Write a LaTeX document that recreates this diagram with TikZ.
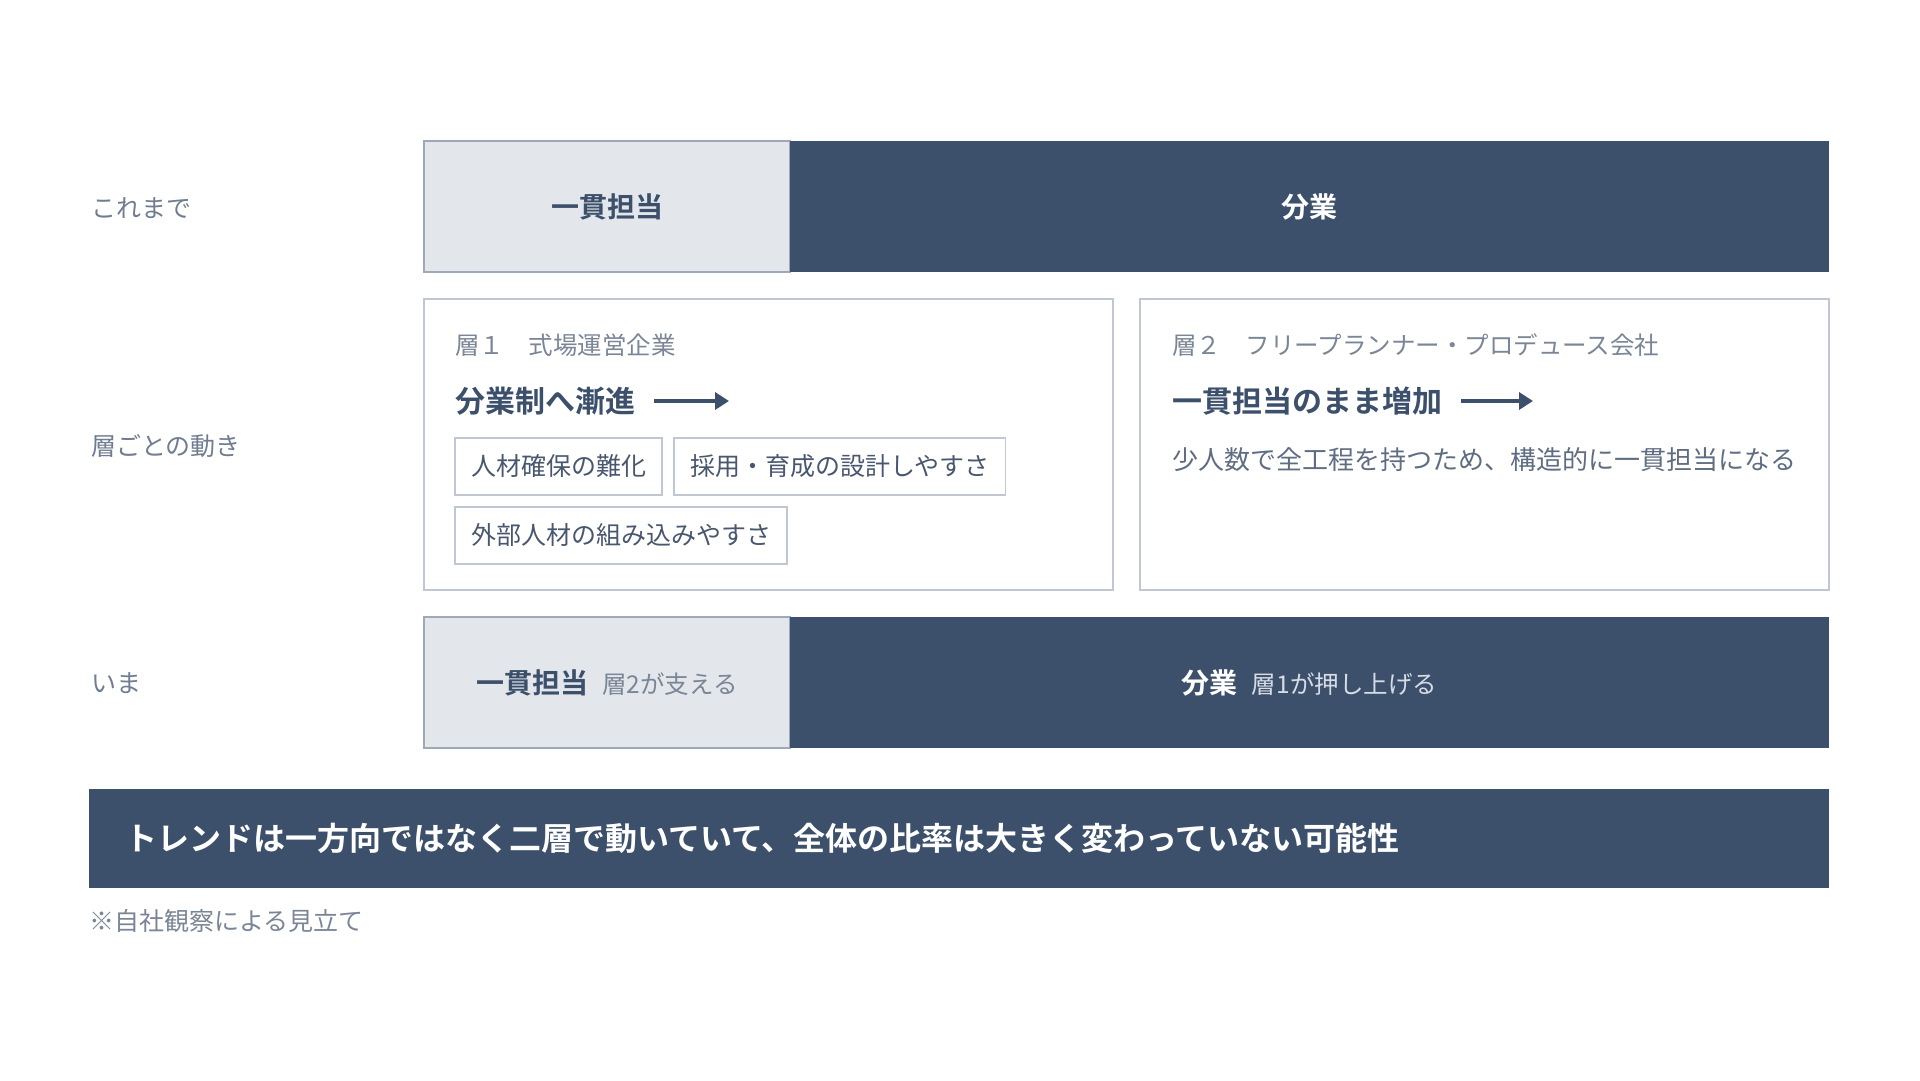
\documentclass[tikz,border=0pt]{standalone}
\usepackage{fontspec}
\setmainfont{Noto Sans CJK JP}[BoldFont={* Bold}]
\usepackage{xcolor}
\usetikzlibrary{arrows.meta,positioning}
\definecolor{navy}{RGB}{60,80,107}
\definecolor{lightfill}{RGB}{227,231,236}
\definecolor{lightedge}{RGB}{158,168,184}
\definecolor{cardedge}{RGB}{192,199,210}
\definecolor{labelgrey}{RGB}{112,124,143}
\definecolor{headgrey}{RGB}{122,133,150}
\definecolor{tagtext}{RGB}{72,87,110}
\definecolor{bodygrey}{RGB}{95,109,130}
\definecolor{palegrey}{RGB}{214,220,229}
\newcommand{\pxfont}[1]{\fontsize{#1}{#1}\selectfont}

\begin{document}
\begin{tikzpicture}[x=1pt,y=-1pt]
\tikzset{every node/.style={inner sep=0pt,outer sep=0pt}}
\tikzset{rowlabel/.style={anchor=west,text=labelgrey,font=\pxfont{25}}}
\tikzset{lightcell/.style={draw=lightedge,line width=1.5pt,fill=lightfill,anchor=north west,
minimum width=366pt,minimum height=131pt,text=navy}}
\tikzset{darkcell/.style={fill=navy,minimum width=1039pt,minimum height=131pt,text=white}}
\tikzset{card/.style={draw=cardedge,line width=1.5pt,anchor=north west,minimum width=689pt,minimum height=291pt}}
\tikzset{cardhead/.style={anchor=west,text=headgrey,font=\pxfont{24.5}}}
\tikzset{cardlead/.style={anchor=west,text=navy,font=\bfseries\pxfont{30}}}
\tikzset{leadarrow/.style={draw=navy,line width=3.5pt,-{Triangle[length=14pt,width=17pt]}}}
\tikzset{tag/.style={draw=cardedge,line width=1.3pt,anchor=north west,minimum height=57pt,
inner xsep=16pt,text=tagtext,font=\pxfont{25}}}
\useasboundingbox (0,0) rectangle (1920,1080);
% row labels
\node[rowlabel] (before) at (91,208) {これまで};
\node[rowlabel] (moves) at (91,446) {層ごとの動き};
\node[rowlabel] (now) at (91,683) {いま};
% before
\node[lightcell,font=\bfseries\pxfont{28}] (beforeone) at (424,141) {一貫担当};
\node[darkcell,font=\bfseries\pxfont{28},right=0pt of beforeone] (beforesplit) {分業};
% tier 1
\node[card] (tierone) at (424,299) {};
\node[cardhead] (tieronehead) at (455,345) {層１　式場運営企業};
\node[cardlead] (tieronelead) at (455,401) {分業制へ漸進};
\coordinate (tieroneend) at (729,401);
\draw[leadarrow] ([xshift=19pt]tieronelead.east) -- (tieroneend);
\node[tag] (hire) at (455,438) {人材確保の難化};
\node[tag,right=12pt of hire] (design) {採用・育成の設計しやすさ};
\node[tag,below=12pt of hire.south west,anchor=north west] (outside) {外部人材の組み込みやすさ};
% tier 2
\node[card,right=27pt of tierone] (tiertwo) {};
\node[cardhead] (tiertwohead) at (1172,345) {層２　フリープランナー・プロデュース会社};
\node[cardlead] (tiertwolead) at (1172,401) {一貫担当のまま増加};
\coordinate (tiertwoend) at (1533,401);
\draw[leadarrow] ([xshift=19pt]tiertwolead.east) -- (tiertwoend);
\node[anchor=west,text=bodygrey,font=\pxfont{26}] (tiertwobody) at (1172,460)
{少人数で全工程を持つため、構造的に一貫担当になる};
% now
\node[lightcell] (nowone) at (424,617)
{{\bfseries\pxfont{28}一貫担当}\hspace{14pt}{\color{headgrey}\pxfont{24.5}層2が支える}};
\node[darkcell,right=0pt of nowone] (nowsplit)
{{\bfseries\pxfont{28}分業}\hspace{14pt}{\color{palegrey}\pxfont{24.5}層1が押し上げる}};
% banner
\node[fill=navy,anchor=north west,minimum width=1740pt,minimum height=99pt] (banner) at (89,789) {};
\node[anchor=west,text=white,font=\bfseries\pxfont{32}] (bannertext) at ([xshift=36pt]banner.west)
{トレンドは一方向ではなく二層で動いていて、全体の比率は大きく変わっていない可能性};
\node[anchor=west,text=headgrey,font=\pxfont{25}] (note) at (89,921) {※自社観察による見立て};
\end{tikzpicture}
\end{document}
